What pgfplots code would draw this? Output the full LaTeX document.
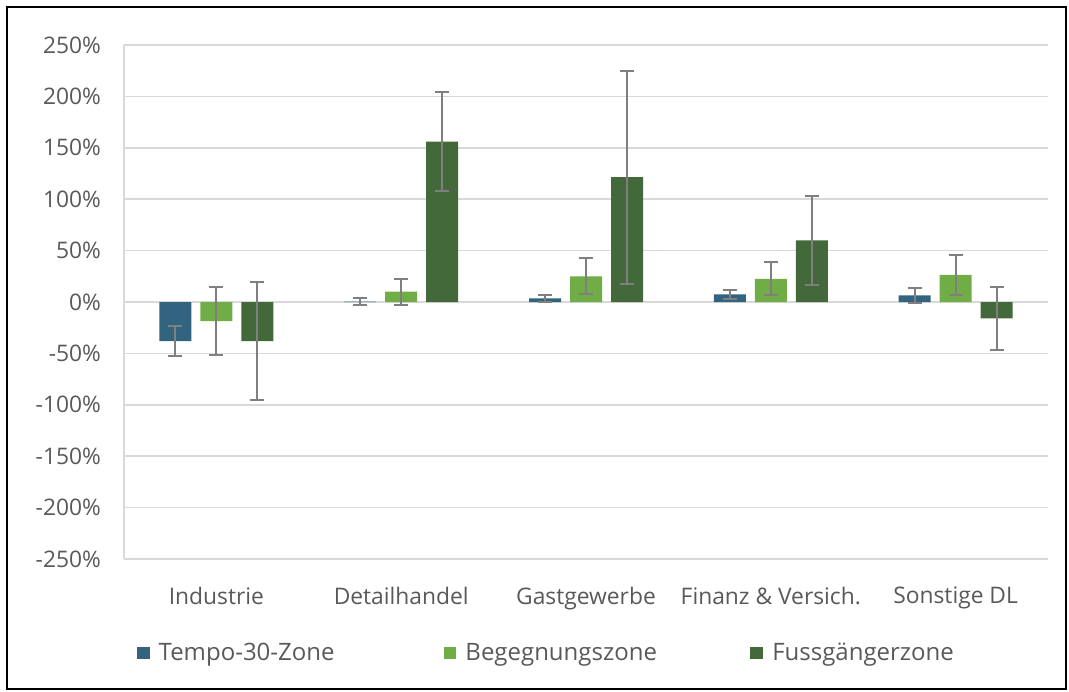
\documentclass[border=0pt]{standalone}
\usepackage{fontspec}
\setmainfont{Open Sans}
\usepackage{pgfplots}
\usepackage{pgfplotstable}
\pgfplotsset{compat=1.18}
\definecolor{tempo}{RGB}{50,100,128}
\definecolor{begeg}{RGB}{112,173,71}
\definecolor{fuss}{RGB}{67,104,58}
\definecolor{txtgray}{RGB}{89,89,89}
\definecolor{gridgray}{RGB}{217,217,217}
\definecolor{errgray}{RGB}{127,127,127}

% x y err  (values in %)
\pgfplotstableread{
x y e
0 -38 15
1 0.3 3.5
2 3.6 3.2
3 7.5 4.5
4 6.5 7
}\tabTempo
\pgfplotstableread{
x y e
0 -18.5 33
1 10 12.5
2 25 17.5
3 22.5 16
4 26.5 19.5
}\tabBegeg
\pgfplotstableread{
x y e
0 -38 57
1 156 48
2 121.5 103.5
3 60 43
4 -16 31
}\tabFuss

\begin{document}
\begin{tikzpicture}
\path (-62pt,-66pt) rectangle (472.5pt,279.5pt);
\begin{axis}[
    name=ax,
    scale only axis,
    width=462pt,
    height=257pt,
    ybar=4.5pt,
    bar width=16pt,
    xmin=-0.5, xmax=4.5,
    ymin=-250, ymax=250,
    ytick={-250,-200,...,250},
    xtick=data,
    xticklabels={Industrie, Detailhandel, Gastgewerbe, Finanz \& Versich., Sonstige DL},
    yticklabel={\pgfmathprintnumber{\tick}\%},
    /pgf/number format/assume math mode=true,
    ticklabel style={font=\fontsize{11.4}{13}\selectfont, text=txtgray},
    xticklabel style={yshift=-10.5pt},
    yticklabel style={xshift=-8pt},
    major tick length=0pt,
    ymajorgrids=true,
    grid style={gridgray, line width=0.8pt},
    axis x line*=bottom,
    axis y line*=left,
    x axis line style={draw=none},
    y axis line style={gridgray, line width=0.8pt, -},
    error bars/error bar style={errgray, line width=1pt},
    error bars/error mark options={rotate=90, errgray, mark size=3.5pt, line width=1pt},
    legend columns=3,
    legend style={at={(0.007,-0.183)}, anchor=west, draw=none, fill=none,
        font=\fontsize{12}{14}\selectfont, text=txtgray},
    legend image code/.code={\fill[#1] (0pt,-3.2pt) rectangle (6.4pt,3.2pt);},
]
\addplot[fill=tempo, draw=none,
    error bars/.cd, y dir=both, y explicit]
    table[x=x, y=y, y error=e] {\tabTempo};
\addplot[fill=begeg, draw=none,
    error bars/.cd, y dir=both, y explicit]
    table[x=x, y=y, y error=e] {\tabBegeg};
\addplot[fill=fuss, draw=none,
    error bars/.cd, y dir=both, y explicit]
    table[x=x, y=y, y error=e] {\tabFuss};
\legend{\makebox[143pt][l]{\hspace*{2.5pt}Tempo-30-Zone},
        \makebox[143pt][l]{\hspace*{2.5pt}Begegnungszone},
        \hspace*{2.5pt}Fussgängerzone}
\end{axis}
\draw[line width=1pt] (-58.5pt,-65pt) rectangle (471pt,276pt);
\end{tikzpicture}
\end{document}
